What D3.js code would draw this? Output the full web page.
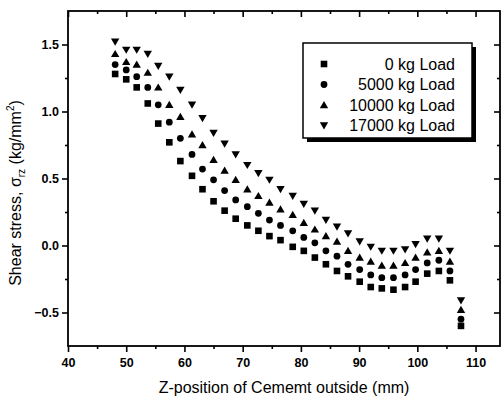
<!DOCTYPE html>
<html>
<head>
<meta charset="utf-8">
<script src="https://cdn.jsdelivr.net/npm/d3@7"></script>
<style>
  body { margin: 0; background: #fff; }
  svg { display: block; font-family: Arial, "Liberation Sans", sans-serif; }
</style>
</head>
<body>
<svg width="504" height="400"></svg>
<script>
// z-positions (mm), same for every load case
var zPos = [48.1, 50.0, 51.8, 53.7, 55.5, 57.4, 59.3, 61.3, 63.1, 65.0, 66.9, 68.8,
            70.8, 72.7, 74.6, 76.5, 78.6, 80.5, 82.4, 84.3, 86.2, 88.1, 90.1, 92.0,
            93.9, 95.9, 97.9, 99.7, 101.7, 103.7, 105.6, 107.5];

// shear stress (kg/mm2) per load case
var load0 = [1.28, 1.24, 1.18, 1.06, 0.91, 0.77, 0.63, 0.52, 0.42, 0.33, 0.26, 0.20,
             0.15, 0.11, 0.07, 0.04, -0.01, -0.04, -0.09, -0.14, -0.19, -0.23, -0.27, -0.31,
             -0.32, -0.33, -0.31, -0.27, -0.21, -0.19, -0.26, -0.60];
var load5000 = [1.35, 1.31, 1.26, 1.18, 1.05, 0.92, 0.80, 0.68, 0.57, 0.49, 0.41, 0.34,
                0.29, 0.24, 0.19, 0.15, 0.11, 0.06, 0.02, -0.04, -0.08, -0.14, -0.18, -0.22,
                -0.24, -0.24, -0.22, -0.18, -0.13, -0.11, -0.19, -0.55];
var load10000 = [1.43, 1.37, 1.35, 1.29, 1.18, 1.05, 0.96, 0.83, 0.75, 0.64, 0.56, 0.49,
                 0.42, 0.37, 0.32, 0.27, 0.23, 0.17, 0.12, 0.07, 0.03, -0.04, -0.09, -0.12,
                 -0.15, -0.15, -0.13, -0.09, -0.05, -0.04, -0.12, -0.48];
var load17000 = [1.52, 1.46, 1.46, 1.43, 1.34, 1.26, 1.16, 1.05, 0.95, 0.84, 0.76, 0.68,
                 0.60, 0.54, 0.49, 0.42, 0.37, 0.31, 0.26, 0.19, 0.14, 0.09, 0.03, -0.01,
                 -0.04, -0.04, -0.03, 0.01, 0.05, 0.05, -0.04, -0.41];

var seriesNames = ["0 kg Load", "5000 kg Load", "10000 kg Load", "17000 kg Load"];
var seriesShapes = ["square", "circle", "up", "down"];

var xMajor = [40, 50, 60, 70, 80, 90, 100, 110];
var xMinor = [45, 55, 65, 75, 85, 95, 105];
var yMajor = [-0.5, 0.0, 0.5, 1.0, 1.5];
var yMinor = [-0.25, 0.25, 0.75, 1.25];

var svg = d3.select("svg"),
    plotL = 68, plotR = 500, plotT = 11, plotB = 346;

var x = d3.scaleLinear().domain([40, 114.2]).range([plotL, plotR]);
var y = d3.scaleLinear().domain([-0.75, 1.75]).range([plotB, plotT]);

// marker path, centred on 0,0
function marker(shape) {
  if (shape == "square") return "M-3.3,-3.3H3.3V3.3H-3.3Z";
  if (shape == "circle") return d3.symbol(d3.symbolCircle, 36)();
  if (shape == "up") return "M0,-4L4.2,3.2H-4.2Z";
  return "M0,4L4.2,-3.2H-4.2Z";
}

// frame
svg.append("rect")
    .attr("x", plotL).attr("y", plotT)
    .attr("width", plotR - plotL).attr("height", plotB - plotT)
    .attr("fill", "none").attr("stroke", "#000").attr("stroke-width", 1.8);

function styleAxis(g) {
  g.select(".domain").remove();
  g.selectAll("line").attr("stroke", "#000").attr("stroke-width", 1.6);
  g.selectAll("text").attr("fill", "#000").attr("font-size", "12.5px").attr("font-weight", "bold");
}

// bottom (outward)
svg.append("g").attr("transform", "translate(0," + plotB + ")")
    .call(d3.axisBottom(x).tickValues(xMajor).tickSize(6).tickPadding(6).tickFormat(d3.format("d")))
    .call(styleAxis);
svg.append("g").attr("transform", "translate(0," + plotB + ")")
    .call(d3.axisBottom(x).tickValues(xMinor).tickSize(3).tickFormat(""))
    .call(styleAxis);
// top (inward)
svg.append("g").attr("transform", "translate(0," + plotT + ")")
    .call(d3.axisBottom(x).tickValues(xMajor).tickSize(6).tickFormat(""))
    .call(styleAxis);
svg.append("g").attr("transform", "translate(0," + plotT + ")")
    .call(d3.axisBottom(x).tickValues(xMinor).tickSize(3).tickFormat(""))
    .call(styleAxis);
// left (outward)
svg.append("g").attr("transform", "translate(" + plotL + ",0)")
    .call(d3.axisLeft(y).tickValues(yMajor).tickSize(6).tickPadding(3).tickFormat(d3.format(".1f")))
    .call(styleAxis);
svg.append("g").attr("transform", "translate(" + plotL + ",0)")
    .call(d3.axisLeft(y).tickValues(yMinor).tickSize(3).tickFormat(""))
    .call(styleAxis);
// right (inward)
svg.append("g").attr("transform", "translate(" + plotR + ",0)")
    .call(d3.axisLeft(y).tickValues(yMajor).tickSize(6).tickFormat(""))
    .call(styleAxis);
svg.append("g").attr("transform", "translate(" + plotR + ",0)")
    .call(d3.axisLeft(y).tickValues(yMinor).tickSize(3).tickFormat(""))
    .call(styleAxis);

// points
var allSeries = [load0, load5000, load10000, load17000];
allSeries.forEach(function(vals, i) {
  svg.append("g").selectAll("path")
    .data(vals)
    .enter().append("path")
      .attr("d", marker(seriesShapes[i]))
      .attr("transform", function(d, j) { return "translate(" + x(zPos[j]) + "," + y(d) + ")"; })
      .attr("fill", "#000");
});

// legend
var lg = svg.append("g");
lg.append("rect").attr("x", 307).attr("y", 47).attr("width", 169).attr("height", 95).attr("fill", "#000");
lg.append("rect").attr("x", 303).attr("y", 43).attr("width", 169).attr("height", 95)
    .attr("fill", "#fff").attr("stroke", "#000").attr("stroke-width", 1.5);
seriesNames.forEach(function(name, i) {
  var cy = 64 + i * 20.5;
  lg.append("path").attr("d", marker(seriesShapes[i]))
    .attr("transform", "translate(324," + cy + ")").attr("fill", "#000");
  lg.append("text").attr("x", 455).attr("y", cy + 5.5)
    .attr("text-anchor", "end").attr("font-size", "16px").text(name);
});

// axis titles
svg.append("text").attr("x", (plotL + plotR) / 2).attr("y", 393)
    .attr("text-anchor", "middle").attr("font-size", "16px")
    .text("Z-position of Cememt outside (mm)");

var yt = svg.append("text")
    .attr("transform", "translate(21,193) rotate(-90)")
    .attr("text-anchor", "middle").attr("font-size", "16px");
yt.append("tspan").text("Shear stress, \u03c3");
yt.append("tspan").attr("font-size", "10px").attr("dy", 4).text("rz");
yt.append("tspan").attr("dy", -4).text(" (kg/mm");
yt.append("tspan").attr("font-size", "10px").attr("dy", -7).text("2");
yt.append("tspan").attr("dy", 7).text(")");
</script>
</body>
</html>
